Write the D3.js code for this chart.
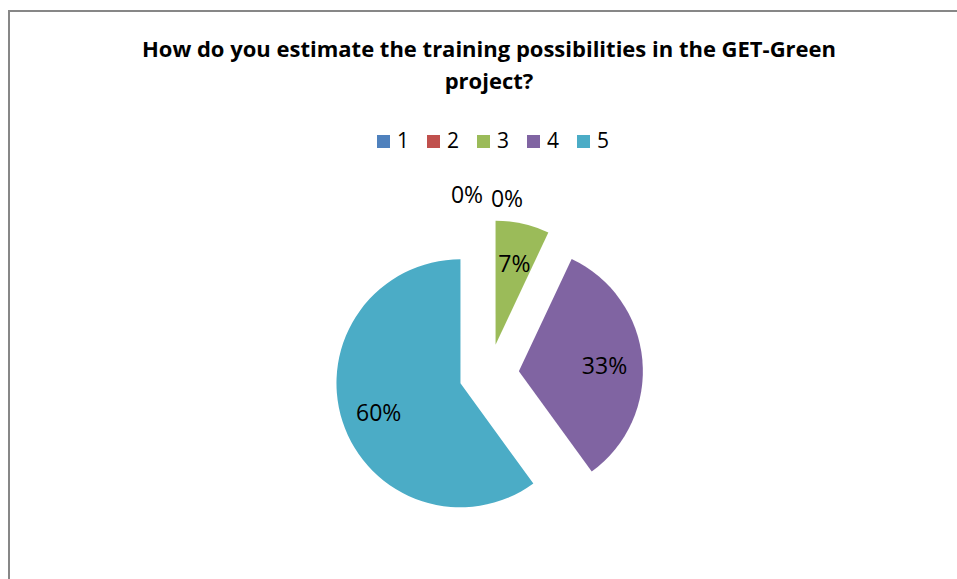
<!DOCTYPE html>
<html>
<head>
<meta charset="utf-8">
<script src="https://cdn.jsdelivr.net/npm/d3@7"></script>
<style>
  body { margin: 0; background: #fff; }
  text { font-family: "Open Sans", "Liberation Sans", sans-serif; fill: #000; }
</style>
</head>
<body>
<div id="chart"></div>
<script>
// data
const categories = ["1", "2", "3", "4", "5"];
const values = [0, 0, 7, 33, 60];
const colors = ["#4F81BD", "#C0504D", "#9BBB59", "#8064A2", "#4BACC6"];
const titleLines = ["How do you estimate the training possibilities in the GET-Green", "project?"];

const width = 957, height = 579;
const cx = 489, cy = 374;
const radius = 124;
const explode = 30;

let svg = d3.select("#chart")
  .append("svg")
  .attr("width", width)
  .attr("height", height);

// chart frame (only left + top visible in the crop)
svg.append("rect")
  .attr("x", 9).attr("y", 11)
  .attr("width", 980).attr("height", 620)
  .attr("fill", "none")
  .attr("stroke", "#878787")
  .attr("stroke-width", 2);

// title
svg.append("g")
  .selectAll("text")
  .data(titleLines)
  .enter()
  .append("text")
    .attr("x", cx)
    .attr("y", (d, i) => 57 + i * 32)
    .attr("text-anchor", "middle")
    .style("font-weight", "bold")
    .style("font-size", "22px")
    .text(d => d);

// legend
let legend = svg.append("g")
  .selectAll("g")
  .data(categories)
  .enter()
  .append("g")
    .attr("transform", (d, i) => "translate(" + (377 + i * 50) + ",135)");

legend.append("rect")
  .attr("width", 13).attr("height", 13)
  .attr("fill", (d, i) => colors[i]);

legend.append("text")
  .attr("x", 20)
  .attr("y", 13)
  .style("font-size", "21px")
  .text(d => d);

// pie
let pie = d3.pie().sort(null).value(d => d);
let arcs = pie(values);
let arc = d3.arc().innerRadius(0).outerRadius(radius);

let total = d3.sum(values);
let mid = d => (d.startAngle + d.endAngle) / 2;
let shift = (d, r) => [Math.sin(mid(d)) * r, -Math.cos(mid(d)) * r];

let g = svg.append("g").attr("transform", "translate(" + cx + "," + cy + ")");

g.selectAll("path")
  .data(arcs)
  .enter()
  .append("path")
    .attr("d", arc)
    .attr("fill", (d, i) => colors[i])
    .attr("transform", d => "translate(" + shift(d, explode) + ")");

// data labels: inside for real slices, pushed above the pie for empty ones
let zeroIdx = 0;
g.selectAll("text.lbl")
  .data(arcs)
  .enter()
  .append("text")
    .attr("class", "lbl")
    .attr("text-anchor", "middle")
    .attr("dy", "0.35em")
    .style("font-size", "23px")
    .attr("transform", d => {
      if (d.value === 0) {
        let p = shift(d, radius + explode + 22);
        let dx = zeroIdx === 0 ? -22 : 18;
        let dy = zeroIdx === 0 ? -3 : 1;
        zeroIdx++;
        return "translate(" + (p[0] + dx) + "," + (p[1] + dy) + ")";
      }
      let p = shift(d, explode + 86);
      return "translate(" + p[0] + "," + (p[1] + 3) + ")";
    })
    .text(d => Math.round(d.value / total * 100) + "%");
</script>
</body>
</html>
